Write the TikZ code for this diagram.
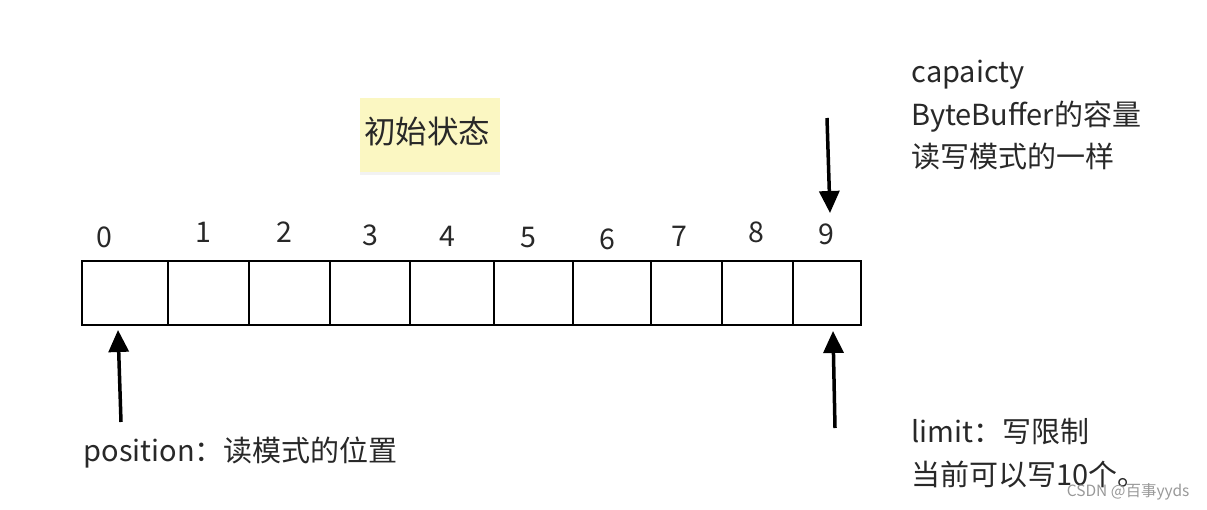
\documentclass[tikz,border=0pt]{standalone}
\usepackage{fontspec}
\setmainfont{Noto Sans CJK SC}
\usepackage{xcolor}
\usetikzlibrary{arrows.meta,shadows}

\definecolor{notefill}{RGB}{251,247,194}
\definecolor{inkgray}{RGB}{40,40,40}

\begin{document}
\begin{tikzpicture}[x=1pt,y=-1pt,
    cell/.style={draw, line width=2pt, minimum height=64pt, inner sep=0pt},
    idx/.style={font=\fontsize{28.5}{30}\selectfont, text=inkgray},
    note/.style={font=\fontsize{29}{42.5}\selectfont, text=inkgray, align=left, anchor=west},
    ptr/.style={line width=3.5pt, -{Triangle[width=20pt,length=22pt]}}]

  \useasboundingbox (0,0) rectangle (1207,509);

  % sticky note
  \node[fill=notefill, minimum width=140pt, minimum height=74pt,
        drop shadow={opacity=0.1, shadow xshift=0pt, shadow yshift=-3pt}] (title) at (430,135) {};
  \node[font=\fontsize{31.5}{32}\selectfont, text=inkgray] (titletext) at (427,131) {初始状态};

  % the buffer cells
  \foreach \a/\b [count=\i from 0] in {82/168,168/249,249/330,330/410,410/494,494/573,573/651,651/722,722/793,793/861}
    \node[cell, minimum width={(\b-\a)*1pt}] (c\i) at ({(\a+\b)/2},293) {};

  % indices
  \foreach \n/\x/\y in {0/104/237,1/203/232,2/284/232,3/370/235,4/447/236,5/528/238,6/607/239,7/679/236,8/756/232,9/826/234}
    \node[idx] (n\n) at (\x,\y) {\n};

  % labels
  \node[note] (cap) at (908,115) {capaicty\\ByteBuffer的容量\\读写模式的一样};
  \node[note] (lim) at (908,453) {limit：写限制\\当前可以写10个。};
  \node[note] (pos) at (80,453) {position：读模式的位置};

  % pointers
  \coordinate (captail) at (827,118);
  \coordinate (caphead) at (830,213);
  \coordinate (limtail) at (835,428);
  \coordinate (limhead) at (833,331);
  \coordinate (postail) at (121,422);
  \coordinate (poshead) at (118,330);
  \draw[ptr] (captail) -- (caphead);
  \draw[ptr] (limtail) -- (limhead);
  \draw[ptr] (postail) -- (poshead);

  % watermark
  \node[font=\fontsize{15.5}{16}\selectfont, text=gray!80, anchor=east] (mark) at (1193,492) {CSDN @百事yyds};
\end{tikzpicture}
\end{document}
